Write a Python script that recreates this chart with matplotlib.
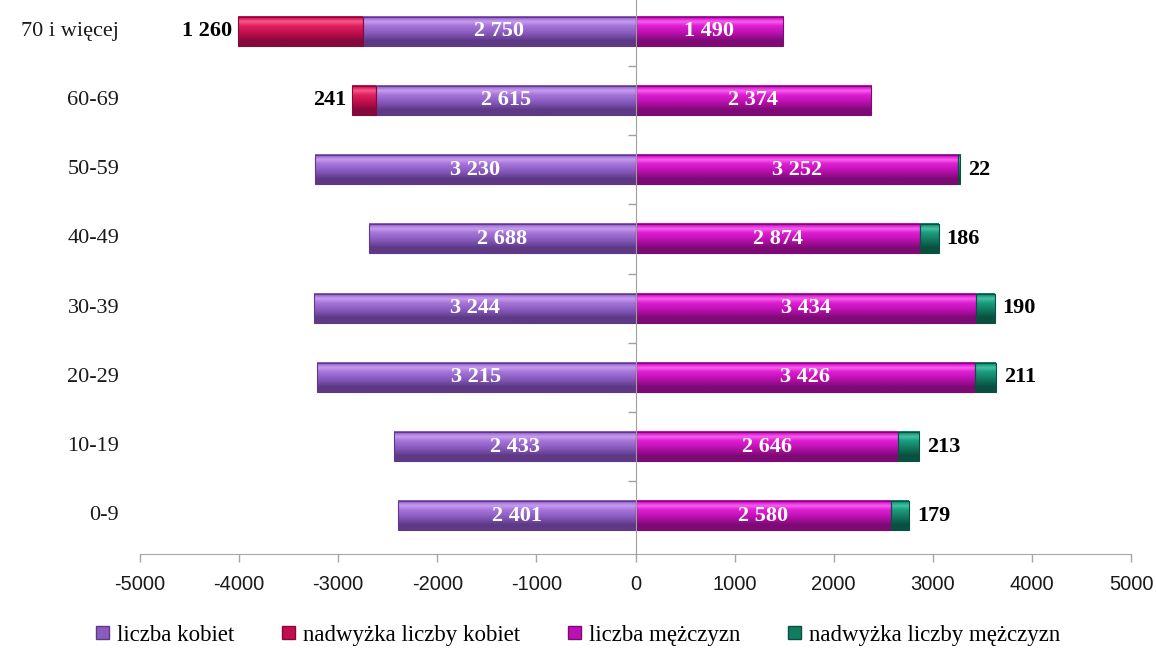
import matplotlib
matplotlib.use("Agg")
import matplotlib.pyplot as plt
from matplotlib.patches import Patch, Rectangle
from matplotlib.colors import LinearSegmentedColormap
import matplotlib.transforms as mtransforms
import numpy as np

categories = ['0-9', '10-19', '20-29', '30-39', '40-49', '50-59', '60-69', '70 i więcej']
women = [2401, 2433, 3215, 3244, 2688, 3230, 2615, 2750]
women_surplus = [0, 0, 0, 0, 0, 0, 241, 1260]
men = [2580, 2646, 3426, 3434, 2874, 3252, 2374, 1490]
men_surplus = [179, 213, 211, 190, 186, 22, 0, 0]
xticks = [-5000, -4000, -3000, -2000, -1000, 0, 1000, 2000, 3000, 4000, 5000]
legend_labels = ['liczba kobiet', 'nadwyżka liczby kobiet', 'liczba mężczyzn', 'nadwyżka liczby mężczyzn']

# (dark, mid, light, highlight)
C_W = ('#5E3A86', '#8B5CC0', '#A675D8', '#C69CF0')
C_WS = ('#85093A', '#C30F4E', '#E0225E', '#F55A8E')
C_M = ('#7E0A76', '#BE10B2', '#DE1ED2', '#F560EE')
C_MS = ('#0A5040', '#127C60', '#1C9C7E', '#44C2A2')

SERIF = 'Liberation Serif'
SANS = 'Liberation Sans'

fig = plt.figure(figsize=(11.56, 6.48), dpi=100)
ax = fig.add_axes([0.1211, 0.145, 0.8573, 0.855])

H = 0.42
y = np.arange(len(categories))

_cmaps = {}


def get_cmap(cols):
    key = cols
    if key not in _cmaps:
        dark, mid, light, hi = cols
        _cmaps[key] = LinearSegmentedColormap.from_list(
            'b' + str(len(_cmaps)),
            [(0.0, dark), (0.18, dark), (0.45, mid), (0.68, light),
             (0.82, hi), (0.92, light), (1.0, mid)])
    return _cmaps[key]


grad = np.linspace(0, 1, 64).reshape(-1, 1)


def bevel_bar(yy, left, width, cols):
    x0, x1 = sorted([left, left + width])
    ax.imshow(grad, extent=(x0, x1, yy - H / 2, yy + H / 2), origin='lower',
              aspect='auto', cmap=get_cmap(cols), interpolation='bilinear', zorder=2)
    ax.add_patch(Rectangle((x0, yy - H / 2), x1 - x0, H, facecolor='none',
                           edgecolor=cols[0], linewidth=0.8, zorder=3))


w = np.array(women, dtype=float)
ws = np.array(women_surplus, dtype=float)
m = np.array(men, dtype=float)
ms = np.array(men_surplus, dtype=float)

for i in range(len(categories)):
    bevel_bar(y[i], 0, -w[i], C_W)
    if ws[i] > 0:
        bevel_bar(y[i], -w[i], -ws[i], C_WS)
    bevel_bar(y[i], 0, m[i], C_M)
    if ms[i] > 0:
        bevel_bar(y[i], m[i], ms[i], C_MS)


def fmt(v):
    return f"{int(v):,}".replace(',', ' ')


for i in range(len(categories)):
    ax.text(-w[i] / 2, y[i], fmt(w[i]), ha='center', va='center', color='white',
            fontsize=16, fontweight='bold', family=SERIF, zorder=5)
    ax.text(m[i] / 2, y[i], fmt(m[i]), ha='center', va='center', color='white',
            fontsize=16, fontweight='bold', family=SERIF, zorder=5)
    if ws[i] > 0:
        ax.text(-w[i] - ws[i] - 60, y[i], fmt(ws[i]), ha='right', va='center',
                color='black', fontsize=16, fontweight='bold', family=SERIF, zorder=5)
    if ms[i] > 0:
        ax.text(m[i] + ms[i] + 80, y[i], fmt(ms[i]), ha='left', va='center',
                color='black', fontsize=16, fontweight='bold', family=SERIF, zorder=5)

ax.set_xlim(-5000, 5000)
ax.set_ylim(-0.55, len(categories) - 0.55)

for s in ['top', 'right']:
    ax.spines[s].set_visible(False)
ax.spines['left'].set_position(('data', 0))
ax.spines['left'].set_color('#A0A0A0')
ax.spines['bottom'].set_color('#A6A6A6')
ax.spines['left'].set_zorder(4)

ax.set_xticks(xticks)
ax.set_xticklabels([str(t) for t in xticks], family=SANS, fontsize=14.5, color='#1a1a1a')
ax.tick_params(axis='x', length=6, width=1, color='#A6A6A6', pad=9)

ax.set_yticks(y[:-1] + 0.5)
ax.set_yticklabels([])
ax.tick_params(axis='y', length=6, width=1, color='#A0A0A0', direction='out')

trans = mtransforms.blended_transform_factory(ax.transAxes, ax.transData)
for i, c in enumerate(categories):
    ax.text(-0.021, y[i], c, transform=trans, ha='right', va='center',
            fontsize=16, family=SERIF, color='#1a1a1a')

handles = [Patch(facecolor=C_W[1], edgecolor=C_W[0]),
           Patch(facecolor=C_WS[1], edgecolor=C_WS[0]),
           Patch(facecolor=C_M[1], edgecolor=C_M[0]),
           Patch(facecolor=C_MS[1], edgecolor=C_MS[0])]
leg = fig.legend(handles, legend_labels, loc='center', bbox_to_anchor=(0.5, 0.02),
                 ncol=4, frameon=False, handlelength=0.55, handleheight=0.55,
                 handletextpad=0.35, columnspacing=2.1,
                 prop={'family': SERIF, 'size': 16.5})

fig.savefig('out.png', dpi=100)
